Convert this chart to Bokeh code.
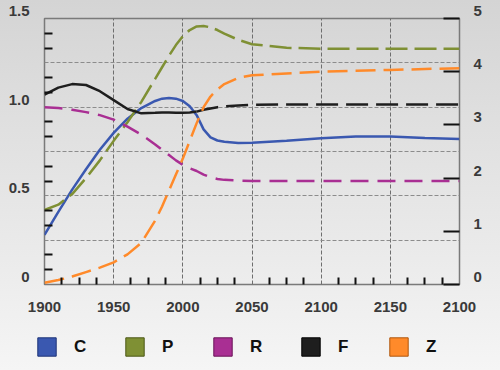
from bokeh.plotting import figure
from bokeh.models import LinearAxis, Range1d, FixedTicker, Legend, LegendItem, Column, Row
from bokeh.embed import file_html
from bokeh.resources import INLINE

# ---- data ----
years = [1900, 1910, 1920, 1930, 1940, 1950, 1960, 1970, 1980, 1985, 1990, 1995,
         2000, 2005, 2010, 2015, 2020, 2025, 2030, 2040, 2050, 2075, 2100, 2125,
         2150, 2175, 2200]
C = [0.28, 0.41, 0.535, 0.65, 0.76, 0.855, 0.935, 0.995, 1.035, 1.048, 1.052, 1.048,
     1.035, 1.005, 0.955, 0.875, 0.83, 0.812, 0.805, 0.798, 0.80, 0.81, 0.825, 0.835,
     0.834, 0.826, 0.82]
P = [0.42, 0.45, 0.51, 0.60, 0.70, 0.81, 0.915, 1.03, 1.16, 1.225, 1.29, 1.35,
     1.40, 1.435, 1.455, 1.458, 1.45, 1.435, 1.415, 1.38, 1.355, 1.335, 1.33, 1.33,
     1.33, 1.33, 1.33]
R = [1.00, 0.995, 0.985, 0.972, 0.955, 0.93, 0.89, 0.845, 0.79, 0.76, 0.73, 0.70,
     0.675, 0.655, 0.64, 0.62, 0.605, 0.595, 0.59, 0.586, 0.584, 0.583, 0.583, 0.583,
     0.583, 0.583, 0.583]
F = [1.07, 1.11, 1.13, 1.125, 1.09, 1.04, 0.99, 0.965, 0.968, 0.97, 0.97, 0.968,
     0.968, 0.97, 0.975, 0.985, 0.993, 1.0, 1.005, 1.01, 1.013, 1.015, 1.015, 1.015,
     1.015, 1.015, 1.015]
Z = [0.01, 0.025, 0.045, 0.07, 0.095, 0.125, 0.17, 0.235, 0.36, 0.44, 0.53, 0.62,
     0.71, 0.81, 0.91, 1.0, 1.06, 1.10, 1.13, 1.165, 1.18, 1.19, 1.20, 1.205,
     1.21, 1.215, 1.22]
F_SOLID_END = 2010  # black line is solid up to this year, dashed after

series_names = ["C", "P", "R", "F", "Z"]
x_ticks = [1900, 1950, 2000, 2050, 2100, 2150, 2200]
x_tick_labels = ["1900", "1950", "2000", "2050", "2100", "2150", "2100"]
left_ticks = [0, 0.5, 1.0, 1.5]
left_tick_labels = ["0", "0.5", "1.0", "1.5"]
right_ticks = [0, 1, 2, 3, 4, 5]
right_tick_labels = ["0", "1", "2", "3", "4", "5"]

# ---- styling ----
colors = {"C": "#3a58b0", "P": "#7f9034", "R": "#a92f93", "F": "#1e1e1e", "Z": "#ff8a2a"}
edge = {"C": "#1d3478", "P": "#4c5716", "R": "#6a1258", "F": "#000000", "Z": "#b0560c"}
FONT = "Liberation Sans"
NAN = float("nan")

p = figure(width=500, height=326, output_backend="svg", toolbar_location=None,
           x_range=Range1d(1900, 2200), y_range=Range1d(0, 1.5),
           min_border_left=44, min_border_right=41, min_border_top=18,
           min_border_bottom=42)
p.border_fill_alpha = 0
p.background_fill_alpha = 0
p.outline_line_color = "#7a7a7a"
p.outline_line_width = 1.5

p.extra_y_ranges = {"right": Range1d(0, 5)}

# grid
p.xgrid.ticker = FixedTicker(ticks=[1950, 2000, 2050, 2100, 2150])
p.xgrid.grid_line_color = "#6e6e6e"
p.xgrid.grid_line_dash = "4 2"
p.xgrid.grid_line_width = 1
p.ygrid.ticker = FixedTicker(ticks=[0.25, 0.5, 0.75, 1.0, 1.25])
p.ygrid.grid_line_color = "#8c8c8c"
p.ygrid.grid_line_dash = "4 2"
p.ygrid.grid_line_width = 1

def style_axis(ax):
    ax.axis_line_color = None
    ax.major_label_text_font = FONT
    ax.major_label_text_font_size = "15px"
    ax.major_label_text_font_style = "bold"
    ax.major_label_text_color = "#3a3a3a"
    ax.major_tick_line_color = "#111111"
    ax.minor_tick_line_color = "#111111"
    ax.major_tick_line_width = 2
    ax.minor_tick_line_width = 2

# x axis
xa = p.xaxis[0]
xa.ticker = FixedTicker(ticks=x_ticks,
                        minor_ticks=[1900 + 12.5 * k for k in range(1, 24) if k % 4 != 0])
xa.major_label_overrides = dict(zip(x_ticks, x_tick_labels))
style_axis(xa)
xa.major_tick_in = 0
xa.major_tick_out = 0
xa.minor_tick_in = 7
xa.minor_tick_out = 0
xa.major_label_standoff = 17

# left axis (labels sit a little above their ticks: trailing empty line lifts them)
ya = p.yaxis[0]
ya.ticker = FixedTicker(ticks=left_ticks, minor_ticks=[k / 12 for k in range(1, 18) if k % 3 != 0])
ya.major_label_overrides = {t: s + "\n" for t, s in zip(left_ticks, left_tick_labels)}
style_axis(ya)
ya.major_label_text_line_height = 0.95
ya.major_tick_in = 0
ya.major_tick_out = 0
ya.minor_tick_in = 8
ya.minor_tick_out = 0
ya.major_label_standoff = 15

# right axis
ra = LinearAxis(y_range_name="right", ticker=FixedTicker(ticks=right_ticks))
ra.major_label_overrides = {t: s + "\n" for t, s in zip(right_ticks, right_tick_labels)}
style_axis(ra)
ra.major_label_text_line_height = 0.95
ra.major_tick_in = 16
ra.major_tick_out = 0
ra.minor_tick_line_color = None
ra.major_label_standoff = 14
p.add_layout(ra, "right")

# lines
p.line(years, C, line_color=colors["C"], line_width=2.5)
p.line(years, P, line_color=colors["P"], line_width=2.5, line_dash="22 7")
p.line(years, R, line_color=colors["R"], line_width=2.5, line_dash="18 9")
k = years.index(F_SOLID_END)
p.line(years[:k + 1], F[:k + 1], line_color=colors["F"], line_width=2.5)
p.line(years[k:], F[k:], line_color=colors["F"], line_width=2.5, line_dash="22 8")
p.line(years, Z, line_color=colors["Z"], line_width=2.5, line_dash="20 8")

# legend strip (square swatches) in its own axis-less figure below the chart
lf = figure(width=500, height=44, output_backend="svg", toolbar_location=None,
            x_range=Range1d(0, 1), y_range=Range1d(0, 1),
            x_axis_location=None, y_axis_location=None,
            min_border=0, min_border_left=0, min_border_right=0,
            min_border_top=0, min_border_bottom=0)
lf.grid.visible = False
lf.outline_line_color = None
lf.border_fill_alpha = 0
lf.background_fill_alpha = 0
items = []
for name in series_names:
    r = lf.quad(left=[NAN], right=[NAN], top=[NAN], bottom=[NAN], fill_color=colors[name],
                line_color=edge[name], line_width=1)
    items.append(LegendItem(label=name, renderers=[r]))
legend = Legend(items=items, orientation="horizontal", location=(35, 12),
                glyph_width=23, glyph_height=23, label_standoff=16, spacing=36,
                label_width=13, padding=0, margin=0, border_line_color=None,
                background_fill_alpha=0, label_text_font=FONT,
                label_text_font_size="17px", label_text_font_style="bold",
                label_text_color="#111111")
lf.add_layout(legend)

layout = Column(p, Row(lf, spacing=0), spacing=0)
layout.styles = {"background": "linear-gradient(to bottom, #d4d4d4 0%, #e0e0e0 35%, #ebebeb 70%, #f5f5f5 100%)"}

open("out.html", "w").write(file_html(layout, INLINE))
